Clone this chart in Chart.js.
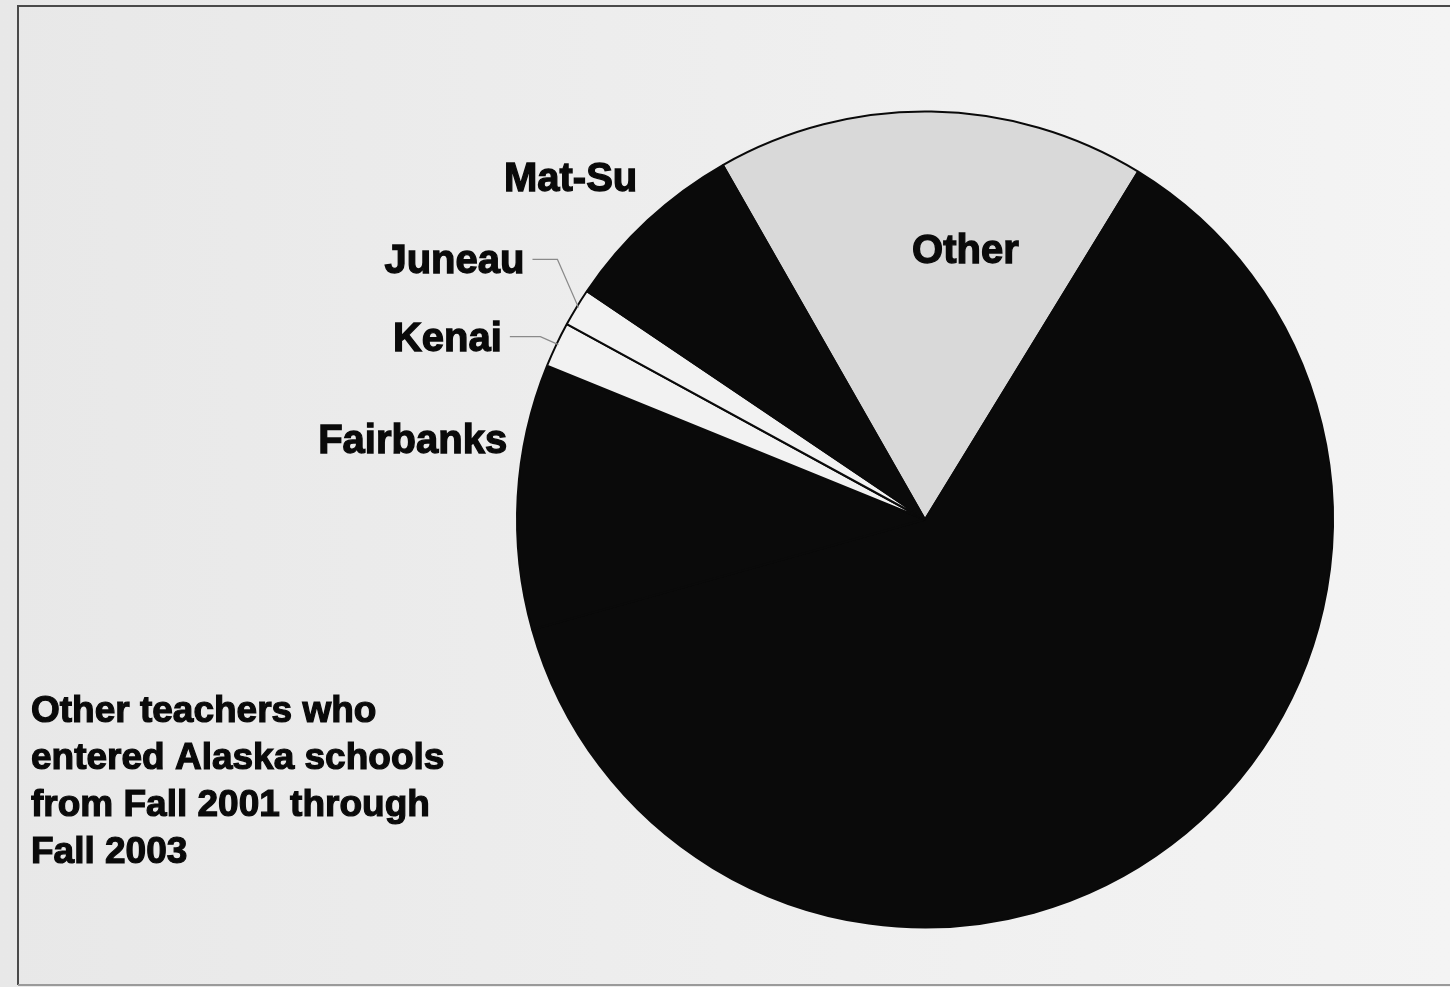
<!DOCTYPE html>
<html>
<head>
<meta charset="utf-8">
<script src="https://cdn.jsdelivr.net/npm/chart.js@4.4.1/dist/chart.umd.min.js"></script>
<style>
  html, body { margin: 0; padding: 0; background: #ececec; }
  #grafico { display: block; }
</style>
</head>
<body>
<canvas id="grafico" width="1450" height="987"></canvas>
<script>
    // dados (percentual aproximado de cada fatia)
    const distritos = ['Other', 'Anchorage', 'Fairbanks', 'Kenai', 'Juneau', 'Mat-Su'];
    const percentuais = [17.0, 61.9, 10.5, 1.8, 1.5, 7.3];
    const coresFatias = ['#d9d9d9', '#0a0a0a', '#0a0a0a', '#f2f2f2', '#f2f2f2', '#0a0a0a'];
    const linhasTexto = ['Other teachers who', 'entered Alaska schools', 'from Fall 2001 through', 'Fall 2003'];

    // fundo e moldura da folha escaneada
    const fundo = {
        id: 'fundo',
        beforeDraw(chart) {
            const ctx = chart.ctx;
            const w = chart.width, h = chart.height;
            const grad = ctx.createLinearGradient(0, 0, w, 0);
            grad.addColorStop(0, '#e8e8e8');
            grad.addColorStop(1, '#f4f4f4');
            ctx.save();
            ctx.fillStyle = grad;
            ctx.fillRect(0, 0, w, h);
            ctx.strokeStyle = '#4a4a4a';
            ctx.lineWidth = 2;
            ctx.beginPath();
            ctx.moveTo(w, 6);
            ctx.lineTo(18, 6);
            ctx.lineTo(18, 985);
            ctx.stroke();
            ctx.strokeStyle = '#9a9a9a';
            ctx.beginPath();
            ctx.moveTo(18, 985);
            ctx.lineTo(w, 985);
            ctx.stroke();
            ctx.restore();
        }
    };

    // escreve o texto um pouco mais grosso, como no original escaneado
    function textoGrosso(ctx, texto, x, y) {
        ctx.fillText(texto, x, y);
        ctx.strokeText(texto, x, y);
    }

    // rótulos das fatias, posicionados a partir do ponto médio do arco
    const rotulos = {
        id: 'rotulos',
        afterDatasetsDraw(chart, args, opts) {
            const ctx = chart.ctx;
            const arcos = chart.getDatasetMeta(0).data;
            ctx.save();
            ctx.font = 'bold 40px "Liberation Sans", Arial, sans-serif';
            ctx.textAlign = 'center';
            ctx.textBaseline = 'middle';
            opts.itens.forEach(function (item) {
                const arco = arcos[item.indice];
                const meio = (arco.startAngle + arco.endAngle) / 2;
                const bx = arco.x + Math.cos(meio) * arco.outerRadius;
                const by = arco.y + Math.sin(meio) * arco.outerRadius;
                const tx = bx + item.dx, ty = by + item.dy;
                const texto = distritos[item.indice];
                if (item.cotovelo) {
                    const larg = ctx.measureText(texto).width;
                    ctx.strokeStyle = '#8a8a8a';
                    ctx.lineWidth = 1.2;
                    ctx.beginPath();
                    ctx.moveTo(bx + 2, by);
                    ctx.lineTo(bx + item.cotovelo[0], by + item.cotovelo[1]);
                    ctx.lineTo(tx + larg / 2 + 8, by + item.cotovelo[1]);
                    ctx.stroke();
                }
                ctx.fillStyle = '#0a0a0a';
                ctx.strokeStyle = '#0a0a0a';
                ctx.lineWidth = 1.3;
                textoGrosso(ctx, texto, tx, ty);
            });
            // texto explicativo no canto inferior esquerdo
            ctx.font = 'bold 37px "Liberation Sans", Arial, sans-serif';
            ctx.textAlign = 'left';
            ctx.lineWidth = 1.2;
            linhasTexto.forEach(function (linha, i) {
                textoGrosso(ctx, linha, 31, 712 + i * 47);
            });
            ctx.restore();
        }
    };

    const dados = {
        labels: distritos,
        datasets: [{
            data: percentuais,
            backgroundColor: coresFatias,
            borderColor: '#0a0a0a',
            borderWidth: 2
        }]
    };

    const config = {
        type: 'pie',
        data: dados,
        options: {
            responsive: false,
            animation: false,
            rotation: -29.7,
            layout: {
                padding: { left: 516, right: 116, top: 110, bottom: 58 }
            },
            plugins: {
                legend: { display: false },
                tooltip: { enabled: false },
                rotulos: {
                    itens: [
                        { indice: 0, dx: 34, dy: 140 },
                        { indice: 2, dx: -105, dy: -54 },
                        { indice: 3, dx: -109, dy: -5, cotovelo: [-16, -8] },
                        { indice: 4, dx: -122, dy: -45, cotovelo: [-19, -48] },
                        { indice: 5, dx: -77, dy: -40 }
                    ]
                }
            }
        },
        plugins: [fundo, rotulos]
    };

    const meuGrafico = new Chart(document.getElementById('grafico'), config);
</script>
</body>
</html>
